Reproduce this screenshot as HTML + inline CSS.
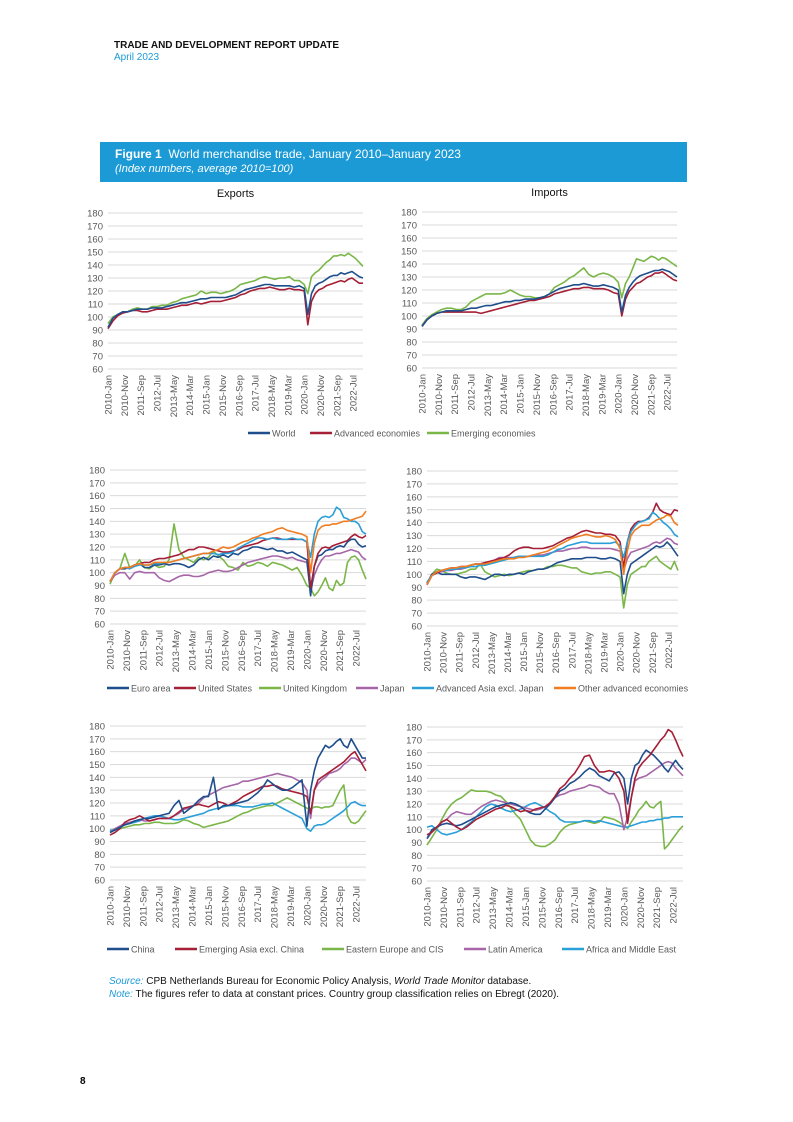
<!DOCTYPE html>
<html><head><meta charset="utf-8"><style>
body{margin:0;background:#fff;}
#page{position:relative;width:793px;height:1122px;overflow:hidden;font-family:"Liberation Sans",sans-serif;}
.abs{position:absolute;white-space:nowrap;}
</style></head><body>
<div id="page">
<div class="abs" style="left:114px;top:40px;font-size:10px;font-weight:bold;color:#111;">TRADE AND DEVELOPMENT REPORT UPDATE</div>
<div class="abs" style="left:114px;top:52px;font-size:10px;color:#1b9ad6;">April 2023</div>
<div class="abs" style="left:100px;top:142px;width:587px;height:40px;background:#1b9ad6;">
<div class="abs" style="left:15px;top:5px;font-size:12px;color:#fff;"><b>Figure 1</b>&nbsp; World merchandise trade, January 2010–January 2023</div>
<div class="abs" style="left:15px;top:21px;font-size:11px;color:#fff;font-style:italic;">(Index numbers, average 2010=100)</div>
</div>
<div class="abs" style="left:109px;top:976px;font-size:10px;color:#111;"><i style="color:#1b9ad6">Source:</i> CPB Netherlands Bureau for Economic Policy Analysis, <i>World Trade Monitor</i> database.</div>
<div class="abs" style="left:109px;top:989px;font-size:10px;color:#111;"><i style="color:#1b9ad6">Note:</i> The figures refer to data at constant prices. Country group classification relies on Ebregt (2020).</div>
<div class="abs" style="left:80px;top:1076px;font-size:10px;font-weight:bold;">8</div>
<svg id="charts" class="abs" style="left:0;top:0" width="793" height="1122"></svg>
</div>
<script>
const xTickLabels=["2010-Jan","2010-Nov","2011-Sep","2012-Jul","2013-May","2014-Mar","2015-Jan","2015-Nov","2016-Sep","2017-Jul","2018-May","2019-Mar","2020-Jan","2020-Nov","2021-Sep","2022-Jul"];
const yTicks=[60,70,80,90,100,110,120,130,140,150,160,170,180];
// observations: quarterly 2010–2019 (first 41 points), then denser through Jan 2023
const expWorld=[92,99,102,104,104,105,106,106,106,107,107,107,108,109,110,111,111,112,113,114,114,115,115,115,115,116,117,119,121,122,123,124,125,125,124,124,124,124,123,124,122,102,118,124,126,127,129,131,132,132,134,133,134,135,133,131,130];
const expAdv=[91,97,101,103,104,105,105,104,104,105,106,106,106,107,108,109,109,110,111,110,111,112,112,112,113,114,115,117,118,120,121,122,122,123,122,121,121,122,121,121,120,94,112,118,121,122,124,125,126,127,128,127,129,130,128,126,126];
const expEm=[95,100,102,104,104,106,107,106,106,108,108,109,109,111,112,114,115,116,117,120,118,119,119,118,119,120,122,125,126,127,128,130,131,130,129,130,130,131,128,128,125,118,131,134,136,139,142,144,147,147,148,147,149,147,145,142,139];
const impWorld=[92,97,100,102,103,104,104,104,104,105,106,106,107,108,108,109,110,111,111,112,112,113,113,113,114,115,117,119,121,122,123,124,124,125,124,123,123,124,123,122,120,103,116,122,126,129,131,132,133,134,135,135,136,135,134,132,130];
const impAdv=[92,97,100,102,103,103,103,103,103,103,103,103,102,103,104,105,106,107,108,109,110,111,112,112,113,114,115,117,118,119,120,121,121,122,122,121,121,121,120,118,117,100,113,119,122,125,126,128,130,131,133,133,134,132,130,128,127];
const impEm=[93,98,101,103,105,106,106,105,105,107,111,113,115,117,117,117,117,118,120,118,116,115,115,114,114,115,117,122,124,126,129,131,134,137,132,130,132,133,132,130,126,114,125,130,137,144,143,142,144,146,145,143,145,144,142,140,138];
const expEuro=[93,100,103,103,104,106,107,104,104,106,106,107,106,107,107,106,104,106,110,112,110,113,112,114,112,115,114,117,118,120,120,119,118,119,117,117,115,116,114,112,110,82,105,113,114,117,118,118,120,121,120,124,126,126,122,120,121];
const expUS=[93,100,103,104,104,106,107,108,108,110,111,111,112,113,114,116,118,118,120,120,119,118,117,116,116,117,118,120,121,122,123,125,126,127,127,126,126,126,126,126,124,88,105,115,119,120,119,121,122,123,124,125,128,130,128,127,129];
const expUK=[91,100,103,115,104,105,110,104,103,106,104,105,110,138,118,112,110,108,112,110,112,117,113,110,105,104,102,108,105,106,108,107,105,108,107,106,104,102,104,98,90,88,82,85,90,96,88,86,94,90,92,108,112,113,110,102,95];
const expJapan=[93,98,100,100,95,100,101,100,100,100,96,94,93,95,97,98,98,97,97,98,100,101,102,101,101,102,104,106,108,109,110,111,112,113,113,112,111,112,110,109,108,86,98,105,110,113,113,114,115,115,116,117,118,117,116,112,110];
const expAsia=[93,100,103,104,103,105,106,106,106,107,107,108,108,109,110,111,112,113,114,115,115,115,114,115,115,116,119,121,123,125,127,127,126,127,126,126,126,127,126,126,124,112,130,140,143,144,143,145,151,149,143,142,140,140,138,132,130];
const expOther=[93,100,103,104,104,106,107,106,106,108,108,108,108,109,110,111,112,113,114,115,115,117,118,120,119,120,122,124,125,127,128,130,131,132,134,135,133,132,131,130,128,100,123,133,136,137,137,138,138,139,140,140,141,142,143,144,148];
const impEuro=[93,100,102,100,100,100,100,98,97,98,98,97,96,98,100,100,99,100,100,101,100,102,103,104,104,105,107,109,110,111,112,112,112,113,113,113,112,112,113,112,110,85,100,108,110,112,114,116,118,120,122,121,122,125,122,118,114];
const impUS=[92,99,101,103,104,105,105,106,106,107,108,108,109,110,111,112,113,115,118,120,121,121,120,120,120,121,122,124,126,128,129,131,133,134,133,132,132,131,131,130,125,105,125,135,139,141,141,142,144,148,155,150,148,147,146,150,149];
const impUK=[92,100,104,103,101,100,100,101,102,104,104,108,102,100,98,99,100,99,100,101,102,103,103,104,104,106,106,107,107,106,105,105,102,101,100,101,101,102,102,100,98,74,92,100,102,104,106,106,110,112,114,110,108,106,104,110,103];
const impJapan=[92,99,102,102,103,103,104,104,105,107,108,108,109,110,111,113,113,113,113,114,114,114,115,115,115,116,117,118,118,119,120,120,121,121,120,120,120,120,120,119,118,103,112,117,118,119,120,121,122,124,125,124,126,128,127,124,123];
const impAsia=[94,99,102,103,103,104,104,105,105,106,106,107,107,108,109,110,111,112,113,114,114,114,114,114,114,115,117,119,120,122,123,124,125,125,124,124,124,124,124,125,122,113,125,133,137,140,141,142,143,148,146,143,140,138,135,131,129];
const impOther=[92,99,102,103,104,105,105,106,106,107,108,108,108,109,110,111,112,112,112,113,113,114,115,116,117,118,120,122,124,126,128,129,130,131,130,129,129,130,129,127,120,100,118,130,134,136,138,138,138,140,142,143,144,146,145,140,138];
const expChina=[97,99,101,103,104,106,107,108,108,109,110,111,112,118,122,112,115,118,122,125,125,140,115,118,118,119,120,121,122,125,128,132,138,135,132,130,130,132,135,138,102,130,145,155,160,165,163,165,168,170,165,163,170,165,160,155,155];
const expEmAsia=[95,97,100,105,107,108,110,108,106,107,108,108,108,110,113,116,117,118,119,118,117,119,121,120,118,120,122,125,127,129,131,133,133,134,133,131,130,129,128,127,125,112,130,138,140,142,144,146,148,150,152,155,158,160,155,150,145];
const expEE=[98,100,100,101,102,103,103,104,104,105,105,104,104,104,105,107,106,104,103,101,102,103,104,105,106,108,110,112,113,115,116,117,118,118,120,122,124,122,120,118,116,115,117,117,116,117,117,118,124,130,134,110,105,104,106,110,114];
const expLatAm=[97,100,102,104,105,106,107,106,106,107,108,108,108,110,112,115,116,118,120,124,126,128,130,132,133,134,135,137,137,138,139,140,141,142,143,142,141,140,138,136,130,108,130,135,138,140,143,144,145,147,150,152,155,155,153,151,154];
const expAfr=[99,99,101,103,104,105,106,108,109,110,110,109,108,107,107,108,109,110,111,112,114,115,116,117,118,118,118,117,117,117,118,119,119,120,118,116,114,112,110,108,100,98,102,103,103,104,106,108,110,112,114,117,120,121,119,118,118];
const impChina=[93,100,102,104,105,104,103,104,106,108,110,112,114,116,118,119,120,121,120,118,115,113,112,112,116,120,125,130,132,136,138,141,145,148,146,142,140,138,144,145,140,120,140,150,152,158,162,160,158,155,152,148,145,150,154,150,147];
const impEmAsia=[96,98,102,106,108,105,102,100,102,105,108,110,112,114,116,117,119,118,116,114,115,114,116,117,118,121,126,132,135,140,144,150,157,158,150,145,145,146,145,140,130,105,125,140,148,152,155,158,162,166,170,173,178,176,170,163,157];
const impEE=[88,94,100,108,115,120,123,125,128,131,130,130,130,129,127,126,122,117,112,108,100,92,88,87,87,89,92,98,102,104,105,106,107,106,105,106,110,109,108,106,103,101,106,110,115,118,122,118,117,120,122,85,88,92,96,100,103];
const impLatAm=[93,98,102,106,108,112,114,113,112,112,115,118,120,122,123,122,121,120,119,118,117,116,115,116,118,121,125,127,128,130,131,132,133,135,134,133,130,128,128,120,100,110,125,138,140,141,142,144,146,148,150,152,153,152,148,145,142];
const impAfr=[102,103,100,97,96,97,98,100,103,106,110,114,118,120,119,117,115,114,115,116,118,120,121,119,117,114,112,108,106,106,106,106,107,107,106,107,106,105,104,103,102,102,103,104,105,106,106,107,107,108,108,109,109,110,110,110,110];

const C={dblue:"#1f4e8c",red:"#a51f36",green:"#7ab648",purple:"#a666a8",lblue:"#2a9fd8",orange:"#f07d22"};
const NS="http://www.w3.org/2000/svg";
const svg=document.getElementById('charts');
function mk(tag,attrs,parent){const e=document.createElementNS(NS,tag);for(const k in attrs)e.setAttribute(k,attrs[k]);(parent||svg).appendChild(e);return e;}
// month offset (from 2010-Jan) of observation i
function monthOf(i,n){ if(i<=40) return i*3; return 120+(i-40)*36/(n-1-40); }

function panel(name,L,R,T,B,series,title){
  const g=mk('g',{});
  
  
  const xs=m=>L+(R-L)*m/156;
  const ys=v=>B-(B-T)*(v-60)/120;
  if(title){const t=mk('text',{x:(L+R)/2,y:T-16,'text-anchor':'middle','font-size':'11','fill':'#111'},g);t.textContent=title;
    
    }
  yTicks.forEach(v=>{
    const ln=mk('line',{x1:L,x2:R,y1:ys(v),y2:ys(v),stroke:'#d9d9d9','stroke-width':1},g);
    
    
    const t=mk('text',{x:L-5,y:ys(v)+3.5,'text-anchor':'end','font-size':'9.5','fill':'#595959'},g);
    t.textContent=v;
    
    
  });
  xTickLabels.forEach((lab,i)=>{
    const x=xs(i*10);
    const t=mk('text',{transform:`translate(${x+3.5},${B+6}) rotate(-90)`,'text-anchor':'end','font-size':'9.5','fill':'#595959'},g);
    t.textContent=lab;
    
    
  });
  series.forEach(s=>{
    const n=s.v.length;
    const d=s.v.map((v,i)=>(i?'L':'M')+xs(monthOf(i,n)).toFixed(1)+','+ys(v).toFixed(1)).join('');
    const p=mk('path',{d:d,fill:'none',stroke:s.c,'stroke-width':1.6,'stroke-linejoin':'round'},g);
    
    
  });
}
function legend(y,items){
  items.forEach(it=>{
    const g=mk('g',{});
    
    
    mk('line',{x1:it[0],x2:it[0]+22,y1:y,y2:y,stroke:it[2],'stroke-width':2.5},g);
    const t=mk('text',{x:it[0]+24,y:y+3.5,'font-size':'9','fill':'#595959'},g);t.textContent=it[1];
  });
}
panel('exports-chart',108,363,213,369,[{n:'line-emerging',c:C.green,v:expEm},{n:'line-advanced',c:C.red,v:expAdv},{n:'line-world',c:C.dblue,v:expWorld}],'Exports');
panel('imports-chart',422,677,212,368,[{n:'line-emerging',c:C.green,v:impEm},{n:'line-advanced',c:C.red,v:impAdv},{n:'line-world',c:C.dblue,v:impWorld}],'Imports');
legend(433,[[248,'World',C.dblue],[310,'Advanced economies',C.red],[427,'Emerging economies',C.green]]);
panel('advanced-exports-chart',110,366,470,624,[{n:'line-uk',c:C.green,v:expUK},{n:'line-japan',c:C.purple,v:expJapan},{n:'line-euro',c:C.dblue,v:expEuro},{n:'line-us',c:C.red,v:expUS},{n:'line-adv-asia',c:C.lblue,v:expAsia},{n:'line-other-adv',c:C.orange,v:expOther}]);
panel('advanced-imports-chart',427,678,471,626,[{n:'line-uk',c:C.green,v:impUK},{n:'line-euro',c:C.dblue,v:impEuro},{n:'line-japan',c:C.purple,v:impJapan},{n:'line-us',c:C.red,v:impUS},{n:'line-adv-asia',c:C.lblue,v:impAsia},{n:'line-other-adv',c:C.orange,v:impOther}]);
legend(688,[[107,'Euro area',C.dblue],[174,'United States',C.red],[259,'United Kingdom',C.green],[356,'Japan',C.purple],[412,'Advanced Asia excl. Japan',C.lblue],[554,'Other advanced economies',C.orange]]);
panel('emerging-exports-chart',110,366,726,880,[{n:'line-eastern-europe',c:C.green,v:expEE},{n:'line-africa-me',c:C.lblue,v:expAfr},{n:'line-latam',c:C.purple,v:expLatAm},{n:'line-em-asia',c:C.red,v:expEmAsia},{n:'line-china',c:C.dblue,v:expChina}]);
panel('emerging-imports-chart',427,683,727,881,[{n:'line-eastern-europe',c:C.green,v:impEE},{n:'line-africa-me',c:C.lblue,v:impAfr},{n:'line-latam',c:C.purple,v:impLatAm},{n:'line-china',c:C.dblue,v:impChina},{n:'line-em-asia',c:C.red,v:impEmAsia}]);
legend(949,[[107,'China',C.dblue],[175,'Emerging Asia excl. China',C.red],[322,'Eastern Europe and CIS',C.green],[464,'Latin America',C.purple],[562,'Africa and Middle East',C.lblue]]);
</script>
</body></html>
